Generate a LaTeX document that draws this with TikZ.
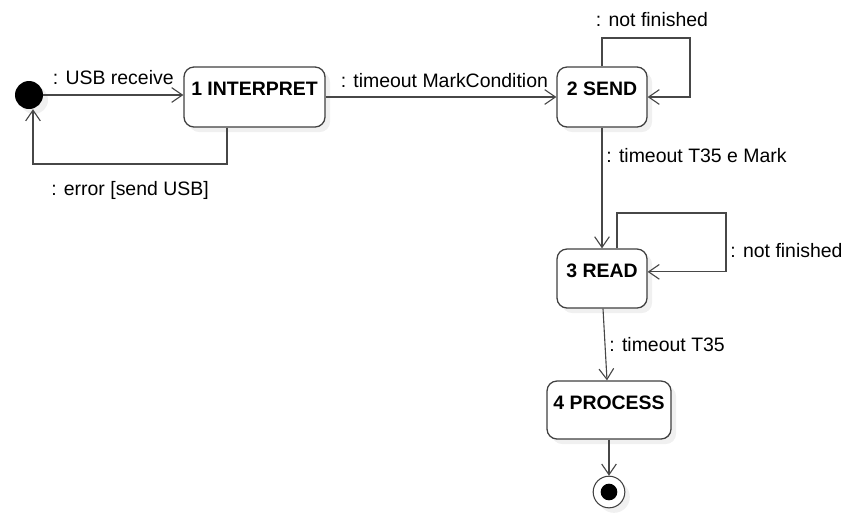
\documentclass[tikz,border=0pt]{standalone}
\usepackage{fontspec}
\setmainfont{Liberation Sans}
\usepackage{tikz}
\usetikzlibrary{arrows.meta, shadows}

\begin{document}
\begin{tikzpicture}[
            x=0.03cm, y=-0.03cm,
            font=\fontsize{16.6}{19}\selectfont,
            line/.style={draw=black!72, line width=0.95pt},
            arrow/.style={line, -{Straight Barb[length=0.32cm, width=0.44cm]}},
            softshadow/.style={drop shadow={opacity=0.12, shadow xshift=0.15cm, shadow yshift=-0.15cm}},
            statebox/.style={rectangle, rounded corners=0.3cm, draw=black!75, line width=1.1pt, fill=white,
                softshadow, font=\fontsize{16.6}{19}\selectfont\bfseries,
                inner xsep=0pt, inner ysep=0pt, text height=0.84cm, text depth=0.96cm},
            startdot/.style={circle, fill=black, minimum size=0.84cm, inner sep=0pt, softshadow},
            enddot/.style={circle, draw=black!75, line width=0.9pt, fill=white, minimum size=0.95cm,
                inner sep=0pt, softshadow},
        ]
            \useasboundingbox (0,0) rectangle (848,519);

            \node[startdot] (start) at (29, 95) {};
            \node[statebox, minimum width=4.23cm] (interpret) at (254.5, 97) {1 INTERPRET};
            \node[statebox, minimum width=2.7cm] (send) at (602, 97) {2 SEND};
            \node[statebox, minimum width=2.7cm, text depth=0.93cm] (read) at (602, 278.5) {3 READ};
            \node[statebox, minimum width=3.72cm, text depth=0.9cm] (process) at (609, 410) {4 PROCESS};
            \node[enddot] (finish) at (609, 492) {};
            \node[circle, fill=black, minimum size=0.5cm, inner sep=0pt] (finishdot) at (finish) {};

            \coordinate (errdown) at (227, 164);
            \coordinate (errleft) at (33, 164);
            \coordinate (sendcorner) at (690, 38);
            \coordinate (readcorner) at (726, 213);

            \draw[arrow] (start.east) -- (start.east -| interpret.west)
                node[midway, above=0.18cm] (usblabel) {: USB receive};
            \draw[arrow] (interpret.south -| errdown) -- (errdown)
                -- (errleft) node[midway, below=0.39cm] (errlabel) {: error [send USB]}
                -- (errleft |- start.south);
            \draw[arrow] (interpret.east) -- (send.west)
                node[midway, above=0.15cm, xshift=0.1cm] (marklabel) {: timeout MarkCondition};
            \draw[arrow] (send.north) -- (send.north |- sendcorner)
                -- (sendcorner) node[midway, above=0.2cm, xshift=0.18cm] (sendlooplabel) {: not finished}
                -- (sendcorner |- send.east) -- (send.east);
            \draw[arrow] (send.south) -- (read.north)
                node[pos=0.23, right] (t35marklabel) {: timeout T35 e Mark};
            \draw[arrow] ([xshift=0.45cm]read.north) -- ([xshift=0.45cm]read.north |- readcorner)
                -- (readcorner)
                -- ([yshift=0.2cm]read.east -| readcorner) node[pos=0.63, right] (readlooplabel) {: not finished}
                -- ([yshift=0.2cm]read.east);
            \draw[arrow] ([xshift=0.03cm]read.south) -- ([xshift=-0.06cm]process.north)
                node[midway, right] (t35label) {: timeout T35};
            \draw[arrow] (process.south) -- (finish.north);
        \end{tikzpicture}
\end{document}
